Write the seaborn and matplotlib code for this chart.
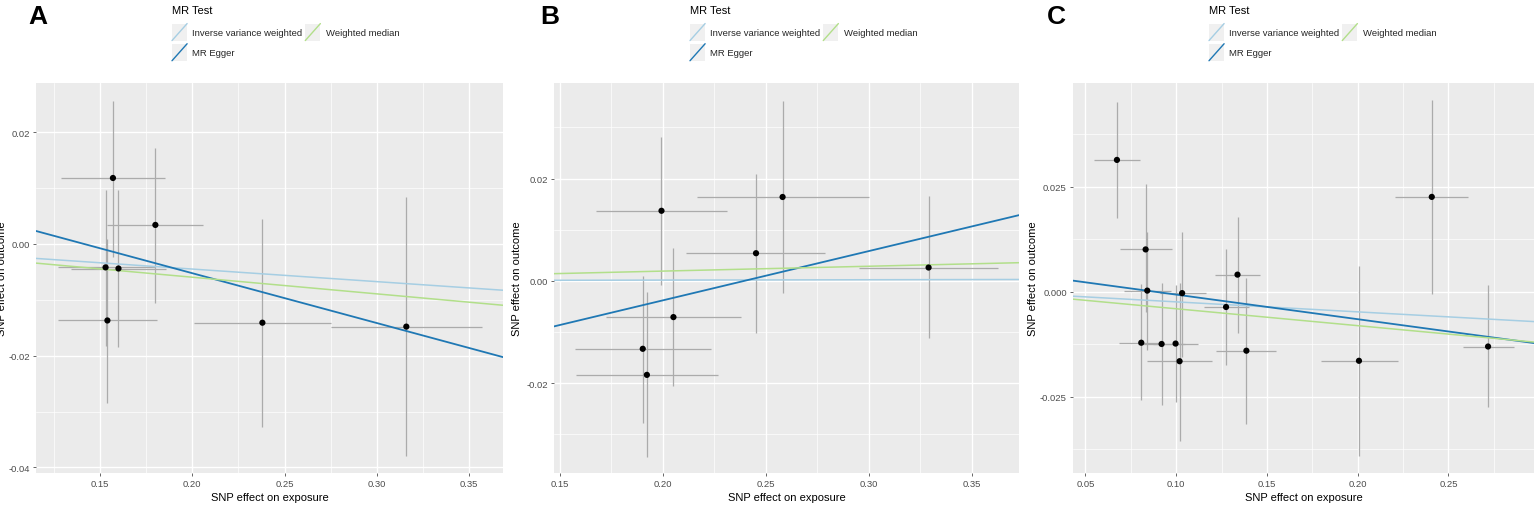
import numpy as np
import pandas as pd
import matplotlib
matplotlib.use("Agg")
import matplotlib.pyplot as plt
import seaborn as sns
from matplotlib.legend_handler import HandlerBase
from matplotlib.lines import Line2D
from matplotlib.patches import Rectangle
from matplotlib.ticker import MultipleLocator, FormatStrFormatter

# ---- panel A ----
a_bx = [0.157, 0.180, 0.153, 0.160, 0.154, 0.238, 0.316]
a_by = [0.0118, 0.0034, -0.0042, -0.0044, -0.0137, -0.0141, -0.0148]
a_bx_lo = [0.129, 0.154, 0.127, 0.134, 0.127, 0.201, 0.275]
a_bx_hi = [0.185, 0.206, 0.180, 0.186, 0.181, 0.275, 0.357]
a_by_lo = [-0.0024, -0.0105, -0.0182, -0.0185, -0.0284, -0.0327, -0.0380]
a_by_hi = [0.0256, 0.0172, 0.0096, 0.0096, 0.0009, 0.0045, 0.0084]
a_ivw = -0.0225
a_egger = (-0.0892, 0.0126)   # slope, intercept
a_wm = -0.0298

# ---- panel B ----
b_bx = [0.1993, 0.2581, 0.2452, 0.3290, 0.2051, 0.1902, 0.1922]
b_by = [0.0137, 0.0164, 0.0054, 0.0026, -0.0071, -0.0133, -0.0184]
b_bx_lo = [0.1674, 0.2166, 0.2111, 0.2951, 0.1723, 0.1573, 0.1576]
b_bx_hi = [0.2311, 0.2999, 0.2789, 0.3629, 0.2380, 0.2232, 0.2269]
b_by_lo = [-0.0009, -0.0024, -0.0103, -0.0112, -0.0205, -0.0278, -0.0344]
b_by_hi = [0.0282, 0.0352, 0.0209, 0.0165, 0.0065, 0.0009, -0.0022]
b_ivw = 0.0007
b_egger = (0.0964, -0.0231)
b_wm = 0.0095

# ---- panel C ----
c_bx = [0.0674, 0.2408, 0.0832, 0.0841, 0.1338, 0.1033, 0.1275, 0.0808, 0.0920,
        0.0997, 0.1019, 0.1387, 0.2007, 0.2718]
c_by = [0.0314, 0.0226, 0.0101, 0.0003, 0.0041, -0.0003, -0.0036, -0.0121, -0.0124,
        -0.0123, -0.0165, -0.0140, -0.0164, -0.0130]
c_bx_lo = [0.0546, 0.2207, 0.0689, 0.0711, 0.1215, 0.0909, 0.1153, 0.0688, 0.0790,
           0.0870, 0.0841, 0.1220, 0.1798, 0.2581]
c_bx_hi = [0.0802, 0.2608, 0.0975, 0.0973, 0.1462, 0.1165, 0.1404, 0.0930, 0.1050,
           0.1120, 0.1197, 0.1552, 0.2220, 0.2861]
c_by_lo = [0.0175, -0.0006, -0.0048, -0.0139, -0.0097, -0.0155, -0.0175, -0.0258, -0.0270,
           -0.0262, -0.0354, -0.0314, -0.0390, -0.0274]
c_by_hi = [0.0452, 0.0456, 0.0256, 0.0143, 0.0179, 0.0143, 0.0103, 0.0018, 0.0022,
           0.0016, 0.0022, 0.0034, 0.0062, 0.0016]
c_ivw = -0.0238
c_egger = (-0.0585, 0.0052)
c_wm = -0.0402

methods = ["Inverse variance weighted", "MR Egger", "Weighted median"]
method_colors = {"Inverse variance weighted": "#A6CEE3",
                 "MR Egger": "#1F78B4",
                 "Weighted median": "#B2DF8A"}

sns.set_theme(style="darkgrid")
FONT = ["Liberation Sans", "DejaVu Sans"]
plt.rcParams["font.family"] = FONT
plt.rcParams["axes.unicode_minus"] = False


class DiagHandler(HandlerBase):
    # grey key square with a diagonal line, like ggplot's abline key
    def create_artists(self, legend, orig_handle, xdescent, ydescent,
                       width, height, fontsize, trans):
        x0, y0 = -xdescent, -ydescent - 0.2 * height
        h = height * 1.4
        bg = Rectangle((x0, y0), width, h, facecolor="#F0F0F0",
                       edgecolor="none", transform=trans)
        ln = Line2D([x0, x0 + width], [y0, y0 + h], color=orig_handle.get_color(),
                    lw=1.0, transform=trans)
        return [bg, ln]


def draw_panel(ax, bx, by, bx_lo, bx_hi, by_lo, by_hi, ivw, egger, wm,
               xlim, ylim, ymajor, yfmt, ylab_off, axw, xmajor=0.05):
    df = pd.DataFrame({"bx": bx, "by": by, "bx_lo": bx_lo, "bx_hi": bx_hi,
                       "by_lo": by_lo, "by_hi": by_hi})
    ax.set_facecolor("#EBEBEB")
    ax.vlines(df["bx"], df["by_lo"], df["by_hi"], color="#ABABAB", lw=0.9, zorder=2)
    ax.hlines(df["by"], df["bx_lo"], df["bx_hi"], color="#ABABAB", lw=0.9, zorder=2)
    sns.scatterplot(data=df, x="bx", y="by", color="black", s=20, edgecolor="none",
                    ax=ax, zorder=4)
    ax.axline((0, 0), slope=ivw, color=method_colors["Inverse variance weighted"], lw=1.1, zorder=3)
    ax.axline((0, egger[1]), slope=egger[0], color=method_colors["MR Egger"], lw=1.3, zorder=3)
    ax.axline((0, 0), slope=wm, color=method_colors["Weighted median"], lw=1.1, zorder=3)
    ax.set_xlim(xlim)
    ax.set_ylim(ylim)
    ax.xaxis.set_major_locator(MultipleLocator(xmajor))
    ax.xaxis.set_minor_locator(MultipleLocator(xmajor / 2))
    ax.yaxis.set_major_locator(MultipleLocator(ymajor))
    ax.yaxis.set_minor_locator(MultipleLocator(ymajor / 2))
    ax.xaxis.set_major_formatter(FormatStrFormatter("%.2f"))
    ax.yaxis.set_major_formatter(FormatStrFormatter(yfmt))
    ax.grid(which="major", color="white", lw=1.0)
    ax.grid(which="minor", color="white", lw=0.5)
    ax.tick_params(axis="both", which="major", labelsize=6.8, colors="#4D4D4D",
                   length=2.5, width=0.6, pad=2, bottom=True, left=True)
    ax.tick_params(axis="both", which="minor", length=0)
    for s in ax.spines.values():
        s.set_visible(False)
    ax.set_xlabel("SNP effect on exposure", fontsize=8, color="black", labelpad=3)
    ax.set_ylabel("SNP effect on outcome", fontsize=8, color="black")
    ax.yaxis.set_label_coords(-ylab_off / axw, 0.5)


fig = plt.figure(figsize=(15.35, 5.06), dpi=100)
W, H = 1535.0, 506.0
bottom, top = 474.0, 84.0
panels = [
    dict(left=36, right=503, label="A", lx=28, ylab_off=29,
         data=(a_bx, a_by, a_bx_lo, a_bx_hi, a_by_lo, a_by_hi, a_ivw, a_egger, a_wm),
         xlim=(0.1153, 0.3684), ylim=(-0.0410, 0.0288), ymajor=0.02, yfmt="%.2f"),
    dict(left=554, right=1019, label="B", lx=540, ylab_off=32,
         data=(b_bx, b_by, b_bx_lo, b_bx_hi, b_by_lo, b_by_hi, b_ivw, b_egger, b_wm),
         xlim=(0.1471, 0.3729), ylim=(-0.0376, 0.0387), ymajor=0.02, yfmt="%.2f"),
    dict(left=1073, right=1534, label="C", lx=1047, ylab_off=35,
         data=(c_bx, c_by, c_bx_lo, c_bx_hi, c_by_lo, c_by_hi, c_ivw, c_egger, c_wm),
         xlim=(0.0432, 0.2971), ylim=(-0.0431, 0.0497), ymajor=0.025, yfmt="%.3f"),
]

for p in panels:
    axw = p["right"] - p["left"]
    ax = fig.add_axes([p["left"] / W, 1 - bottom / H, axw / W, (bottom - top) / H])
    draw_panel(ax, *p["data"], xlim=p["xlim"], ylim=p["ylim"], ymajor=p["ymajor"],
               yfmt=p["yfmt"], ylab_off=p["ylab_off"], axw=axw)
    fig.text(p["lx"] / W, 1 - 5 / H, p["label"], fontsize=19, fontweight="bold",
             color="black", ha="left", va="top")
    leg_x = (p["left"] + 136) / W
    fig.text(leg_x, 1 - 10.5 / H, "MR Test", fontsize=8, color="black",
             ha="left", va="center")
    handles = [Line2D([], [], color=method_colors[m]) for m in methods]
    fig.legend(handles, methods, loc="upper left",
               bbox_to_anchor=(leg_x, 1 - 27 / H),
               ncol=2, frameon=False, fontsize=6.8,
               handler_map={Line2D: DiagHandler()},
               handlelength=1.6, handleheight=1.6, handletextpad=0.55,
               columnspacing=0.3, labelspacing=0.85, borderpad=0.0,
               borderaxespad=0.0)

fig.savefig("out.png", dpi=100)
